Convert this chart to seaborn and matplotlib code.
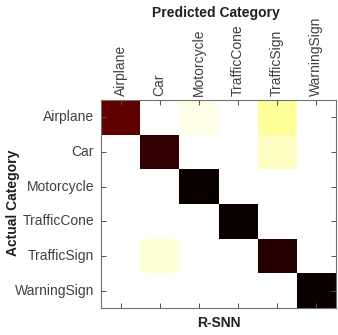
import numpy as np
import pandas as pd
import matplotlib
matplotlib.use("Agg")
import matplotlib.pyplot as plt
import seaborn as sns

categories = ["Airplane", "Car", "Motorcycle", "TrafficCone", "TrafficSign", "WarningSign"]
row_airplane = [0.87, 0.0, 0.025, 0.0, 0.105, 0.0]
row_car = [0.0, 0.94, 0.0, 0.0, 0.06, 0.0]
row_motorcycle = [0.0, 0.0, 1.0, 0.0, 0.0, 0.0]
row_trafficcone = [0.0, 0.0, 0.0, 1.0, 0.0, 0.0]
row_trafficsign = [0.0, 0.045, 0.0, 0.0, 0.955, 0.0]
row_warningsign = [0.0, 0.0, 0.0, 0.0, 0.0, 1.0]

df = pd.DataFrame([row_airplane, row_car, row_motorcycle, row_trafficcone,
                   row_trafficsign, row_warningsign],
                  index=categories, columns=categories)

sns.set_theme(style="ticks")
plt.rcParams['font.family'] = ['Liberation Sans', 'DejaVu Sans']

fig = plt.figure(figsize=(3.38, 3.35), dpi=100)
ax = fig.add_axes([101/338, 1 - 308/335, 235/338, 208/335])

sns.heatmap(df, ax=ax, cmap="hot_r", vmin=0, vmax=1, cbar=False,
            square=False, linewidths=0)
ax.set_axisbelow(False)

txt_col = "#404040"
ax.xaxis.tick_top()
ax.tick_params(axis="x", which="both", top=True, bottom=True, labeltop=True,
               labelbottom=False, direction="in", length=3.5, width=0.7,
               color="#505050", labelsize=10, labelcolor=txt_col, rotation=90, pad=3)
ax.tick_params(axis="y", which="both", left=True, right=True, labelleft=True,
               direction="in", length=3.5, width=0.7, color="#505050",
               labelsize=10, labelcolor=txt_col, rotation=0, pad=5)
for sp in ax.spines.values():
    sp.set_visible(True)
    sp.set_color("#707070")
    sp.set_linewidth(0.8)

ax.xaxis.set_label_position("bottom")
ax.set_xlabel("R-SNN", fontsize=10, fontweight="bold", color="#202020", labelpad=6)
ax.set_ylabel("")
fig.text(13/338, 1 - 203/335, "Actual Category", ha="center", va="center",
         rotation=90, fontsize=10, fontweight="bold", color="#202020")
fig.text(216/338, 1 - 13/335, "Predicted Category", ha="center", va="center",
         fontsize=10, fontweight="bold", color="#202020")

fig.savefig("out.png", dpi=100)
